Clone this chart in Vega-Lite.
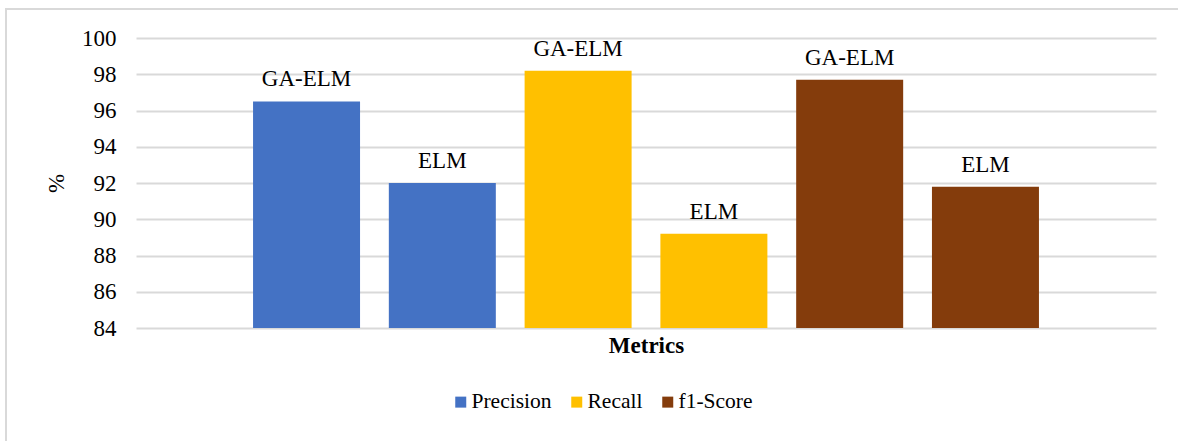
{
  "$schema": "https://vega.github.io/schema/vega-lite/v6.json",
  "width": 1182,
  "height": 442,
  "autosize": {"type": "none"},
  "padding": {"left": 6, "top": 9, "right": -10, "bottom": -10},
  "background": "white",
  "config": {
    "view": {"stroke": "#d9d9d9", "strokeWidth": 2},
    "font": "Liberation Serif",
    "axis": {"labelColor": "black", "titleColor": "black", "labelFont": "Liberation Serif", "titleFont": "Liberation Serif"},
    "legend": {"labelColor": "black", "labelFont": "Liberation Serif"},
    "text": {"font": "Liberation Serif"}
  },
  "data": {
    "values": [
      {"id": 1, "metric": "Precision", "model": "GA-ELM", "value": 96.5},
      {"id": 2, "metric": "Precision", "model": "ELM", "value": 92.0},
      {"id": 3, "metric": "Recall", "model": "GA-ELM", "value": 98.2},
      {"id": 4, "metric": "Recall", "model": "ELM", "value": 89.2},
      {"id": 5, "metric": "f1-Score", "model": "GA-ELM", "value": 97.7},
      {"id": 6, "metric": "f1-Score", "model": "ELM", "value": 91.8}
    ]
  },
  "encoding": {
    "x": {
      "field": "id",
      "type": "ordinal",
      "scale": {"range": [130, 1150], "paddingInner": 0.212, "paddingOuter": 0.862},
      "axis": {
        "title": "Metrics",
        "titleFont": "Liberation Serif",
        "titleFontSize": 23,
        "titleFontWeight": "bold",
        "labels": false,
        "ticks": false,
        "domain": false,
        "grid": false,
        "offset": -123,
        "titlePadding": 6
      }
    },
    "y": {
      "field": "value",
      "type": "quantitative",
      "scale": {"domain": [84, 100], "range": [319, 29], "zero": false, "nice": false},
      "axis": {
        "title": "%",
        "titleFont": "Liberation Serif",
        "titleFontSize": 23,
        "titleFontWeight": "normal",
        "titlePadding": 13,
        "values": [84, 86, 88, 90, 92, 94, 96, 98, 100],
        "labelFont": "Liberation Serif",
        "labelFontSize": 23,
        "labelPadding": 20,
        "ticks": false,
        "domain": false,
        "grid": true,
        "gridColor": "#d9d9d9",
        "gridWidth": 2,
        "offset": -130
      }
    }
  },
  "layer": [
    {
      "mark": {"type": "bar"},
      "encoding": {
        "y2": {"datum": 84},
        "color": {
          "field": "metric",
          "type": "nominal",
          "scale": {"domain": ["Precision", "Recall", "f1-Score"], "range": ["#4472C4", "#FFC000", "#843C0C"]},
          "legend": {
            "orient": "none",
            "legendX": 444,
            "legendY": 382,
            "direction": "horizontal",
            "title": null,
            "symbolType": "square",
            "symbolSize": 121,
            "symbolStrokeWidth": 0,
            "labelFont": "Liberation Serif",
            "labelFontSize": 21.5,
            "labelOffset": 0,
            "columnPadding": 14,
            "padding": 0
          }
        }
      }
    },
    {
      "mark": {"type": "text", "baseline": "alphabetic", "dy": -15, "fontSize": 23, "font": "Liberation Serif", "color": "black"},
      "encoding": {"text": {"field": "model"}}
    }
  ]
}
